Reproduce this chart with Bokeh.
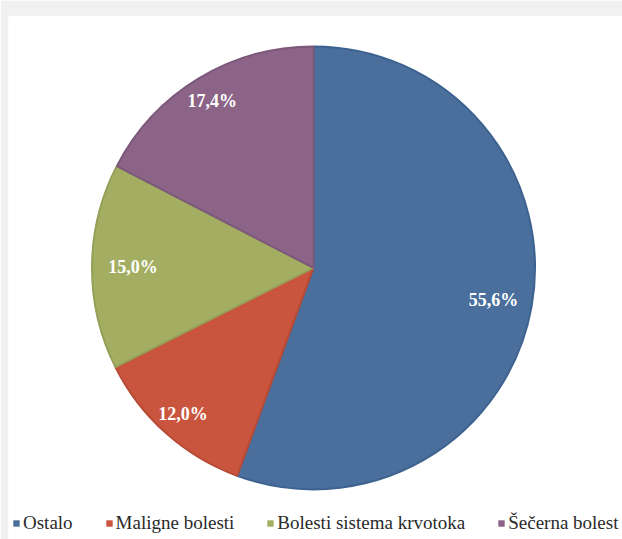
import math
from bokeh.plotting import figure
from bokeh.models import Range1d, Legend, LegendItem, ColumnDataSource
from bokeh.core.properties import value
from bokeh.embed import file_html
from bokeh.resources import INLINE

# ---- data ----
categories = ["Ostalo", "Maligne bolesti", "Bolesti sistema krvotoka", "Šečerna bolest"]
shares = [55.6, 12.0, 15.0, 17.4]
labels = ["55,6%", "12,0%", "15,0%", "17,4%"]

# ---- style ----
fills = ["#4a6f9d", "#c9553e", "#a4ae63", "#8b6488"]
edges = ["#3e6290", "#b64a35", "#959f57", "#7c587a"]
label_frac = [0.825, 0.885, 0.815, 0.88]
SERIF = "'Liberation Serif'"

W, H = 622, 539
left, top = 8, 16
cx_px, cy_px, r_px = 313, 267.4, 221.5

total = sum(shares)
starts, ends, lx, ly = [], [], [], []
cum = 0.0
for s, f in zip(shares, label_frac):
    a0 = math.pi / 2 - 2 * math.pi * cum / total
    cum += s
    a1 = math.pi / 2 - 2 * math.pi * cum / total
    starts.append(a1)
    ends.append(a0)
    mid = (a0 + a1) / 2
    lx.append(f * math.cos(mid))
    ly.append(f * math.sin(mid))

src = ColumnDataSource(dict(cat=categories, start=starts, end=ends, fill=fills, edge=edges))
lsrc = ColumnDataSource(dict(x=lx, y=ly, t=labels))

p = figure(width=W, height=H, output_backend="svg", toolbar_location=None,
           x_range=Range1d((left - cx_px) / r_px, (W - cx_px) / r_px),
           y_range=Range1d((cy_px - H) / r_px, (cy_px - top) / r_px),
           min_border_left=left, min_border_top=top, min_border_right=0, min_border_bottom=0)
p.axis.visible = False
p.grid.visible = False
p.outline_line_color = None
p.background_fill_color = "white"
p.border_fill_color = "#f1f1f1"

p.wedge(x=0, y=0, radius=1, start_angle="start", end_angle="end", direction="anticlock",
        fill_color="fill", line_color="edge", line_width=2, source=src)

p.text(x="x", y="y", text="t", source=lsrc, text_color="white",
       text_font=value(SERIF), text_font_style="bold", text_font_size="18px",
       text_align="center", text_baseline="middle")

nan = float("nan")
items = []
for c, col in zip(categories, fills):
    r = p.quad(left=[nan], right=[nan], top=[nan], bottom=[nan], fill_color=col, line_color=None)
    items.append(LegendItem(label=c, renderers=[r]))

legend = Legend(items=items, orientation="horizontal", location=(4, 5),
                glyph_width=8, glyph_height=8, label_standoff=3, spacing=32,
                padding=0, margin=0, background_fill_alpha=0, border_line_color=None,
                label_text_font=SERIF, label_text_font_size="19px",
                label_text_color="#2a2a2a", label_height=20)
p.add_layout(legend, "center")

open("out.html", "w").write(file_html(p, INLINE))
